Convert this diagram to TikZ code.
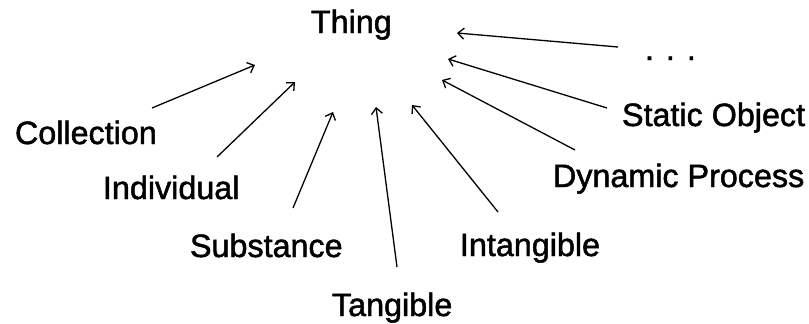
\documentclass[tikz,border=0pt]{standalone}
\usepackage{fontspec}
\setmainfont[FakeBold=1.5]{Liberation Sans}
\usetikzlibrary{arrows.meta}
\begin{document}
\begin{tikzpicture}[x=1pt,y=-1pt,
  lbl/.style={anchor=base west,inner sep=0pt,outer sep=0pt,font=\fontsize{32.3}{36}\selectfont},
  arr/.style={line width=1.3pt,-{Straight Barb[length=6pt,width=11pt,line width=1.3pt]}}]
\useasboundingbox[fill=white] (0,0) rectangle (809,324);
% labels
\node[lbl] (thing) at (311,33) {Thing};
\node[lbl] (coll) at (15,144) {Collection};
\node[lbl] (indiv) at (103,199) {Individual};
\node[lbl] (subst) at (190,257) {Substance};
\node[lbl] (tang) at (332,316) {Tangible};
\node[lbl] (intang) at (460,256) {Intangible};
\node[lbl] (dyn) at (553,187) {Dynamic Process};
\node[lbl] (stat) at (622,126) {Static Object};
\node[lbl] (dots) at (645,60) {. . .};
% arrow ends
\coordinate (c1) at (152,108); \coordinate (h1) at (255,65);
\coordinate (c2) at (217,157); \coordinate (h2) at (295,82);
\coordinate (c3) at (293,208); \coordinate (h3) at (333,112);
\coordinate (c4) at (397,267); \coordinate (h4) at (376,107);
\coordinate (c5) at (498,212); \coordinate (h5) at (412,105);
\coordinate (c6) at (575,150); \coordinate (h6) at (442,80);
\coordinate (c7) at (607,108); \coordinate (h7) at (448,59);
\coordinate (c8) at (618,47);  \coordinate (h8) at (457,33);
\draw[arr] (c1) -- (h1);
\draw[arr] (c2) -- (h2);
\draw[arr] (c3) -- (h3);
\draw[arr] (c4) -- (h4);
\draw[arr] (c5) -- (h5);
\draw[arr] (c6) -- (h6);
\draw[arr] (c7) -- (h7);
\draw[arr] (c8) -- (h8);
\end{tikzpicture}
\end{document}
